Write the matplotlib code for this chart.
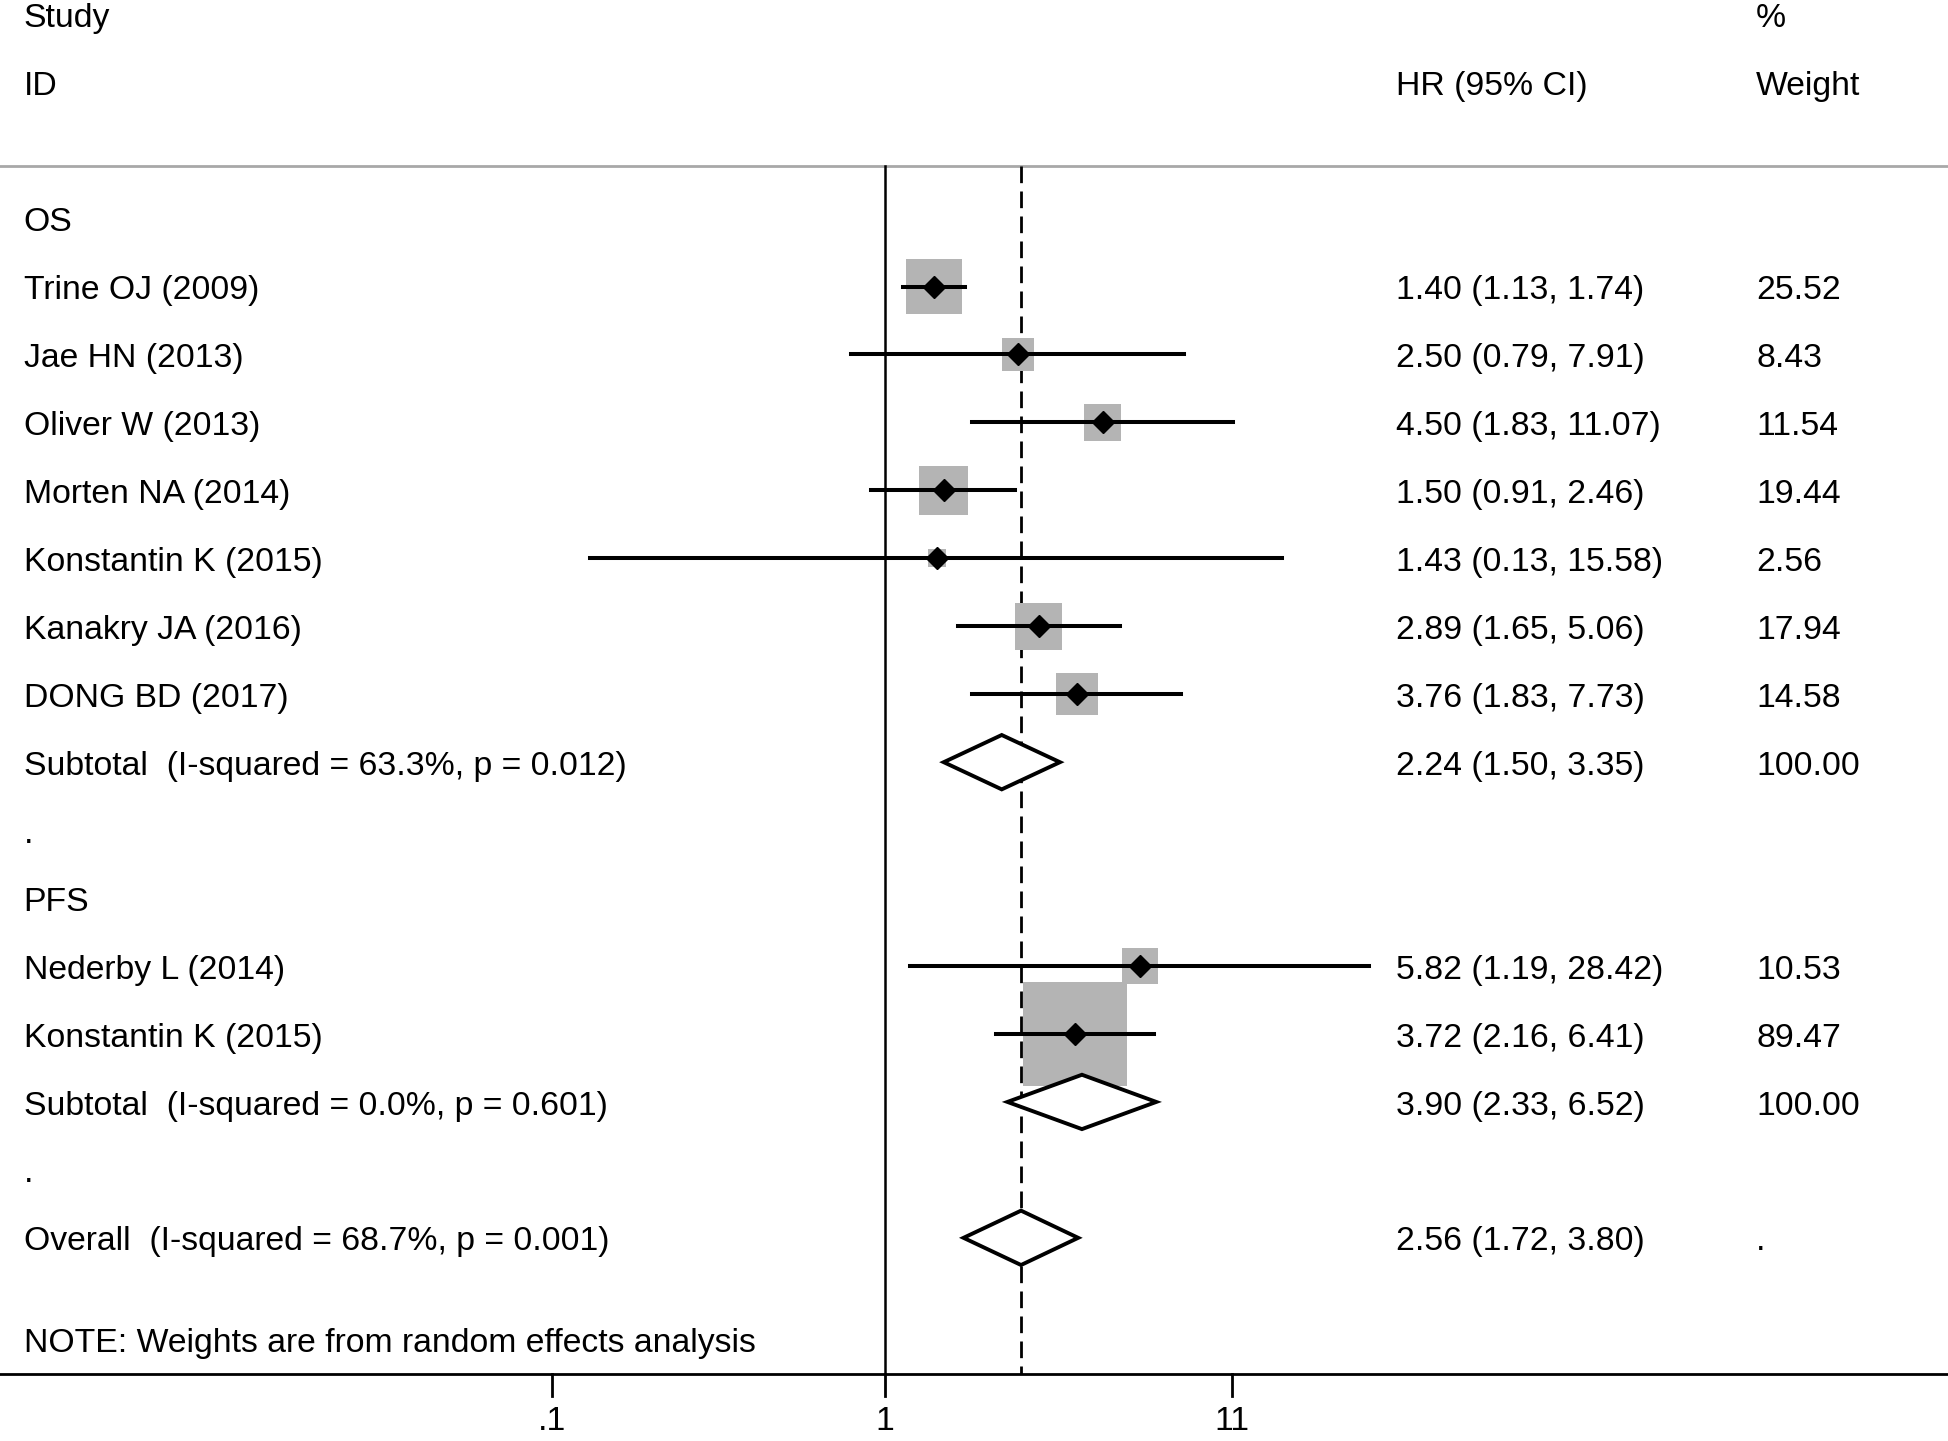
import numpy as np
import matplotlib.pyplot as plt
from matplotlib.patches import Polygon
from matplotlib.transforms import blended_transform_factory

plt.rcParams['font.family'] = ['Liberation Sans', 'DejaVu Sans']

# individual studies
studies = ["Trine OJ (2009)", "Jae HN (2013)", "Oliver W (2013)", "Morten NA (2014)",
           "Konstantin K (2015)", "Kanakry JA (2016)", "DONG BD (2017)",
           "Nederby L (2014)", "Konstantin K (2015)"]
study_rows = [1, 2, 3, 4, 5, 6, 7, 11, 12]
hr = [1.40, 2.50, 4.50, 1.50, 1.43, 2.89, 3.76, 5.82, 3.72]
ci_low = [1.13, 0.79, 1.83, 0.91, 0.13, 1.65, 1.83, 1.19, 2.16]
ci_high = [1.74, 7.91, 11.07, 2.46, 15.58, 5.06, 7.73, 28.42, 6.41]
weights = [25.52, 8.43, 11.54, 19.44, 2.56, 17.94, 14.58, 10.53, 89.47]

# pooled estimates
pooled_labels = ["Subtotal  (I-squared = 63.3%, p = 0.012)",
                 "Subtotal  (I-squared = 0.0%, p = 0.601)",
                 "Overall  (I-squared = 68.7%, p = 0.001)"]
pooled_rows = [8, 13, 15]
pooled_hr = [2.24, 3.90, 2.56]
pooled_low = [1.50, 2.33, 1.72]
pooled_high = [3.35, 6.52, 3.80]
pooled_weight_text = ["100.00", "100.00", "."]

group_labels = ["OS", "PFS"]
group_rows = [0, 10]
spacer_rows = [9, 14]

xticks = [0.1, 1, 11]
xtick_labels = [".1", "1", "11"]
note = "NOTE: Weights are from random effects analysis"

fs = 24.3
dy = 0.06  # text sits a touch below the row centre
fig = plt.figure(figsize=(19.49, 14.41), dpi=100)
ax = fig.add_axes([0, 0, 1, 1])
ax.set_xscale('log')
ax.set_xlim(10 ** -2.657, 10 ** 3.194)
ax.set_ylim(17.99, -3.217)
ax.axis('off')
tr = blended_transform_factory(ax.transAxes, ax.transData)

col_id, col_hr, col_w = 0.0121, 0.7162, 0.9011


def put(x, r, s):
    ax.text(x, r + dy, s, transform=tr, fontsize=fs, va='center')


# headers
put(col_id, -3, "Study")
put(col_w, -3, "%")
put(col_id, -2, "ID")
put(col_hr, -2, "HR (95% CI)")
put(col_w, -2, "Weight")
ax.axhline(-0.77, color='#a8a8a8', lw=2)

# reference lines
ax.plot([1, 1], [-0.77, 17.0], color='black', lw=1.8)
ax.plot([pooled_hr[2], pooled_hr[2]], [-0.77, 17.0], color='black', lw=2,
        linestyle=(0, (6, 3)))

# bottom axis
ax.axhline(17.0, color='black', lw=2)
for t, lab in zip(xticks, xtick_labels):
    ax.plot([t, t], [17.0, 17.33], color='black', lw=2)
    ax.text(t, 17.7, lab, fontsize=fs, ha='center', va='center')

for lab, r in zip(group_labels, group_rows):
    put(col_id, r, lab)
for r in spacer_rows:
    put(col_id, r, ".")

# studies
ax.scatter(hr, study_rows, marker='s', s=[63.4 * w for w in weights],
           color='#b4b4b4', edgecolors='none', zorder=2)
for i in range(len(studies)):
    r = study_rows[i]
    ax.plot([ci_low[i], ci_high[i]], [r, r], color='black', lw=2.9, zorder=3)
    put(col_id, r, studies[i])
    put(col_hr, r, f"{hr[i]:.2f} ({ci_low[i]:.2f}, {ci_high[i]:.2f})")
    put(col_w, r, f"{weights[i]:.2f}")
ax.plot(hr, study_rows, 'D', color='black', ms=11, zorder=4)

# pooled diamonds
for i in range(len(pooled_labels)):
    r = pooled_rows[i]
    h = 0.4
    d = Polygon([(pooled_low[i], r), (pooled_hr[i], r - h), (pooled_high[i], r),
                 (pooled_hr[i], r + h)], closed=True, facecolor='white',
                edgecolor='black', lw=2.8, zorder=5)
    ax.add_patch(d)
    put(col_id, r, pooled_labels[i])
    put(col_hr, r, f"{pooled_hr[i]:.2f} ({pooled_low[i]:.2f}, {pooled_high[i]:.2f})")
    put(col_w, r, pooled_weight_text[i])

put(col_id, 16.5, note)

fig.savefig('out.png', dpi=100)
